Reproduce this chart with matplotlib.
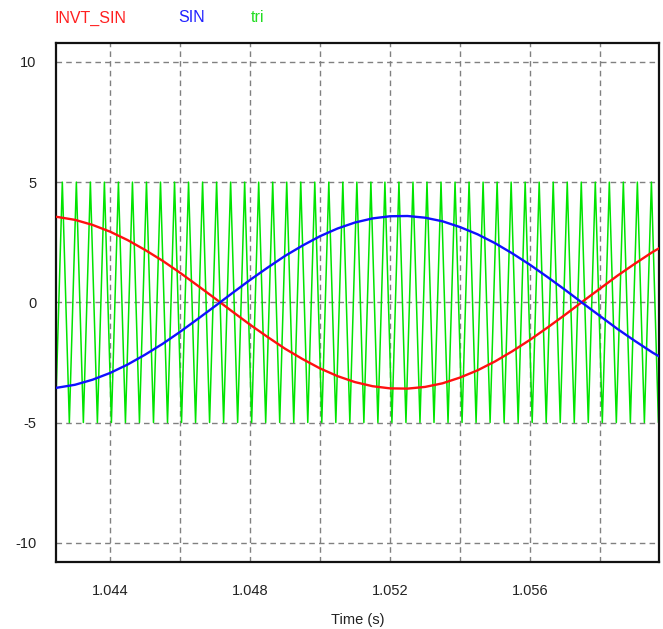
"""
PSIM-style waveform plot: sine reference, inverted sine and triangle carrier.
"""
import matplotlib
matplotlib.use("Agg")
import matplotlib.pyplot as plt
import numpy as np

# --- Data ---
# sine references sampled every 0.5 ms from t = 1.0420 s
t_sin = [1.0420 + 0.0005 * k for k in range(37)]
SIN = [-3.60, -3.55, -3.43, -3.22, -2.94, -2.59, -2.18, -1.73, -1.23, -0.70,
       -0.16, 0.39, 0.93, 1.44, 1.93, 2.36, 2.75, 3.07, 3.32, 3.49,
       3.58, 3.59, 3.52, 3.37, 3.13, 2.83, 2.46, 2.03, 1.56, 1.05,
       0.52, -0.03, -0.57, -1.11, -1.61, -2.09, -2.51]
INVT_SIN = [3.60, 3.55, 3.43, 3.22, 2.94, 2.59, 2.18, 1.73, 1.23, 0.70,
            0.16, -0.39, -0.93, -1.44, -1.93, -2.36, -2.75, -3.07, -3.32, -3.49,
            -3.58, -3.59, -3.52, -3.37, -3.13, -2.83, -2.46, -2.03, -1.56, -1.05,
            -0.52, 0.03, 0.57, 1.11, 1.61, 2.09, 2.51]

# triangle carrier: +/-5, period ~0.4007 ms, first top peak at 1.042637 s
TRI_HIGH = 5.0
TRI_LOW = -5.0
TRI_PERIOD = 0.00040074
TRI_FIRST_PEAK = 1.042637
n_half = 92
t_tri = [TRI_FIRST_PEAK + (k - 1) * TRI_PERIOD / 2 for k in range(n_half)]
tri = [TRI_LOW if (k % 2 == 0) else TRI_HIGH for k in range(n_half)]

xticks = [1.044, 1.046, 1.048, 1.050, 1.052, 1.054, 1.056, 1.058]
xlabels = ['1.044', '', '1.048', '', '1.052', '', '1.056', '']
yticks = [-10, -5, 0, 5, 10]

# --- Figure ---
plt.rcParams['font.family'] = ['Liberation Sans', 'DejaVu Sans']
plt.rcParams['axes.unicode_minus'] = False
fig = plt.figure(figsize=(6.63, 6.29), dpi=100)
ax = fig.add_axes([0.0845, 0.107, 0.9095, 0.824])

ax.plot(t_tri, tri, color='#00e400', lw=1.1, zorder=2)
ax.plot(t_sin, INVT_SIN, color='#ff1010', lw=1.7, zorder=3)
ax.plot(t_sin, SIN, color='#1010ff', lw=1.7, zorder=3)

ax.set_xlim(1.042457, 1.059686)
ax.set_ylim(-10.79, 10.77)
ax.set_xticks(xticks)
ax.set_xticklabels(xlabels)
ax.set_yticks(yticks)
ax.grid(True, color='#808080', linestyle=(0, (4, 3)), linewidth=1.0, zorder=1)
ax.set_axisbelow(True)
ax.tick_params(length=0, labelsize=10.5, colors='#222222')
ax.tick_params(axis='x', pad=16)
ax.tick_params(axis='y', pad=14)
ax.set_xlabel('Time (s)', fontsize=10.5, color='#222222', labelpad=11)

for sp in ax.spines.values():
    sp.set_linewidth(1.6)
    sp.set_color('#111111')

# legend-like labels above the plot
fig.text(55 / 663, 1 - 18 / 629, 'INVT_SIN', color='#ff2020', fontsize=11.5, va='center')
fig.text(178 / 663, 1 - 18 / 629, 'SIN', color='#2020ff', fontsize=11.5, va='center')
fig.text(251 / 663, 1 - 18 / 629, 'tri', color='#22dd22', fontsize=11.5, va='center')

plt.savefig('out.png', dpi=100, facecolor='white')
